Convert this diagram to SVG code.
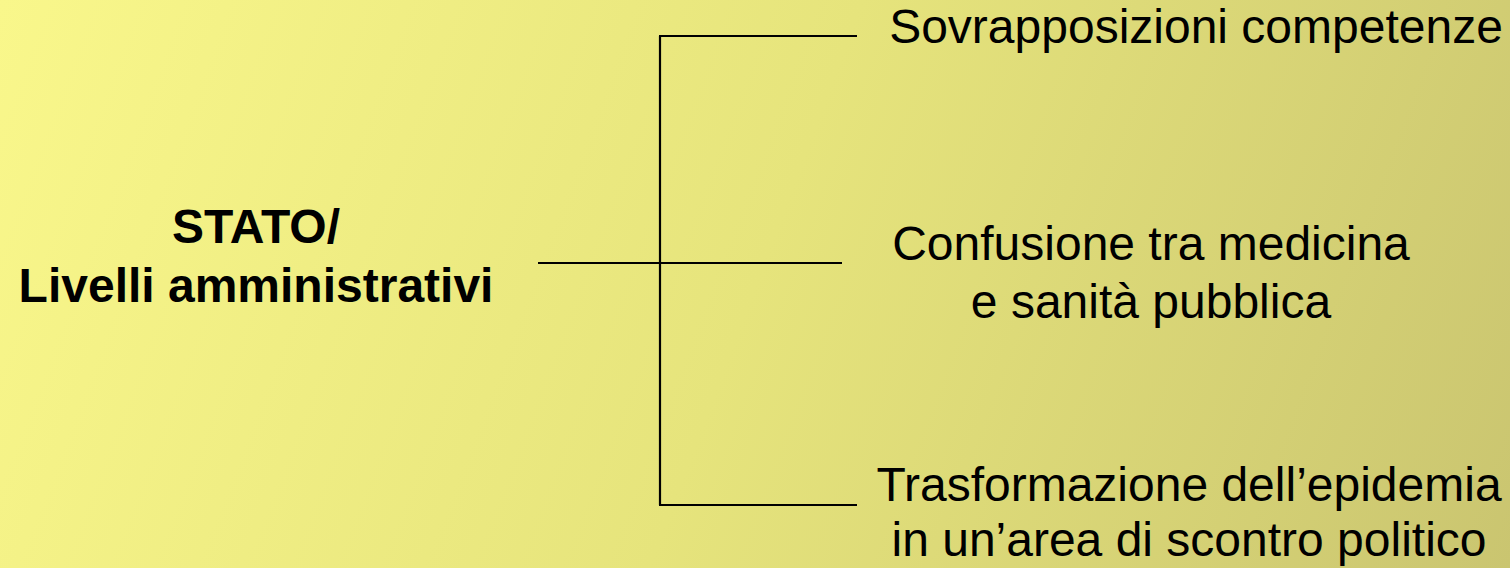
<svg xmlns="http://www.w3.org/2000/svg" width="1510" height="568" viewBox="0 0 1510 568">
<defs>
<linearGradient id="bg" gradientUnits="userSpaceOnUse" x1="0" y1="0" x2="1510" y2="568">
<stop offset="0" stop-color="#f9f78b"/>
<stop offset="0.5" stop-color="#e6e47c"/>
<stop offset="1" stop-color="#cac570"/>
</linearGradient>
<style>
.t{font-family:"Liberation Sans",Arial,sans-serif;font-size:48px;fill:#000;text-anchor:middle}
.b{font-weight:bold}
.c{stroke:#000;stroke-width:2.2;fill:none}
</style>
</defs>
<rect width="1510" height="568" fill="url(#bg)"/>
<g id="connectors">
<line class="c" x1="538" y1="263" x2="842" y2="263"/>
<line class="c" x1="660" y1="36" x2="660" y2="505"/>
<line class="c" x1="659" y1="36" x2="857" y2="36"/>
<line class="c" x1="659" y1="505" x2="857" y2="505"/>
</g>
<g id="stato">
<text class="t b" x="256" y="243">STATO/</text>
<text class="t b" x="256" y="302">Livelli amministrativi</text>
</g>
<g id="sovrapposizioni">
<text class="t" x="1196" y="43">Sovrapposizioni competenze</text>
</g>
<g id="confusione">
<text class="t" x="1151" y="260">Confusione tra medicina</text>
<text class="t" x="1151" y="318">e sanità pubblica</text>
</g>
<g id="trasformazione">
<text class="t" x="1189" y="501">Trasformazione dell’epidemia</text>
<text class="t" x="1189" y="556">in un’area di scontro politico</text>
</g>
</svg>
